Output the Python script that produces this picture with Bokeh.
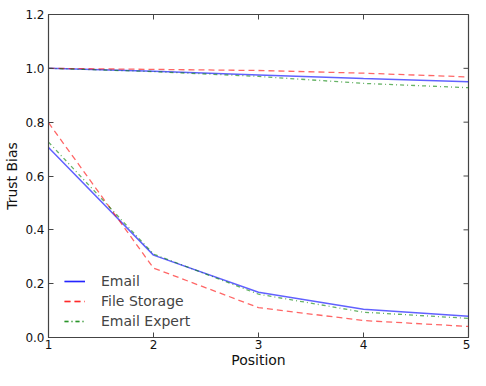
from bokeh.plotting import figure
from bokeh.models import Range1d, FixedTicker, NumeralTickFormatter, Legend
from bokeh.embed import file_html
from bokeh.resources import INLINE
import math

positions = [1, 2, 3, 4, 5]
x_ticks = [1, 2, 3, 4, 5]
y_ticks = [0.0, 0.2, 0.4, 0.6, 0.8, 1.0, 1.2]

email_top = [1.0, 0.989, 0.975, 0.962, 0.950]
email_bottom = [0.706, 0.306, 0.168, 0.105, 0.079]
storage_top = [1.0, 0.996, 0.992, 0.982, 0.968]
storage_bottom = [0.798, 0.258, 0.111, 0.063, 0.041]
expert_top = [1.0, 0.988, 0.970, 0.944, 0.928]
expert_bottom = [0.726, 0.310, 0.161, 0.094, 0.071]

FONT = "DejaVu Sans"
AXC = "#444444"

p = figure(width=470, height=370, output_backend="svg", toolbar_location=None,
           x_range=Range1d(1, 5), y_range=Range1d(0, 1.2),
           min_border_left=48, min_border_right=2, min_border_top=14, min_border_bottom=20)
p.grid.visible = False
p.background_fill_color = "white"
p.border_fill_color = "white"
p.outline_line_color = AXC
p.outline_line_width = 1.2

series = [
    ("Email", email_top, email_bottom, dict(line_color="#0000ff", line_alpha=0.62, line_width=1.5, line_dash="solid")),
    ("File Storage", storage_top, storage_bottom, dict(line_color="#ff0000", line_alpha=0.6, line_width=1.3, line_dash="6 4")),
    ("Email Expert", expert_top, expert_bottom, dict(line_color="#008000", line_alpha=0.6, line_width=1.3, line_dash="4 3 1 3")),
]

items = []
for name, top, bottom, style in series:
    r1 = p.line(positions, top, **style)
    r2 = p.line(positions, bottom, **style)
    items.append((name, [r1, r2]))

legend = Legend(items=items, location=(16, 6), border_line_color=None,
                background_fill_alpha=0, label_text_font=FONT,
                label_text_font_size="14px", glyph_width=21, label_standoff=16,
                spacing=0, glyph_height=20, label_height=20, padding=0, margin=0)
p.add_layout(legend, "center")

# inward ticks on the top and right edges, as in the reference
p.scatter(x_ticks, [p.y_range.end] * len(x_ticks), marker="dash", angle=math.pi / 2,
          size=10, line_color=AXC, line_width=1)
p.scatter([p.x_range.end] * len(y_ticks), y_ticks, marker="dash",
          size=10, line_color=AXC, line_width=1)

for ax, ticks in ((p.xaxis[0], x_ticks), (p.yaxis[0], y_ticks)):
    ax.ticker = FixedTicker(ticks=ticks)
    ax.minor_tick_line_color = None
    ax.major_tick_in = 5
    ax.major_tick_out = 0
    ax.axis_line_color = AXC
    ax.major_tick_line_color = AXC
    ax.major_label_text_font = FONT
    ax.major_label_text_font_size = "12px"
    ax.major_label_text_color = "#111111"
    ax.axis_label_text_font = FONT
    ax.axis_label_text_font_style = "normal"
    ax.axis_label_text_font_size = "14px"
    ax.axis_label_text_color = "#111111"

p.xaxis[0].axis_label = "Position"
p.xaxis[0].major_label_standoff = 2
p.xaxis[0].axis_label_standoff = 0
p.yaxis[0].axis_label = "Trust Bias"
p.yaxis[0].major_label_standoff = 4
p.yaxis[0].axis_label_standoff = 2
p.yaxis[0].formatter = NumeralTickFormatter(format="0.0")

open("out.html", "w").write(file_html(p, INLINE))
